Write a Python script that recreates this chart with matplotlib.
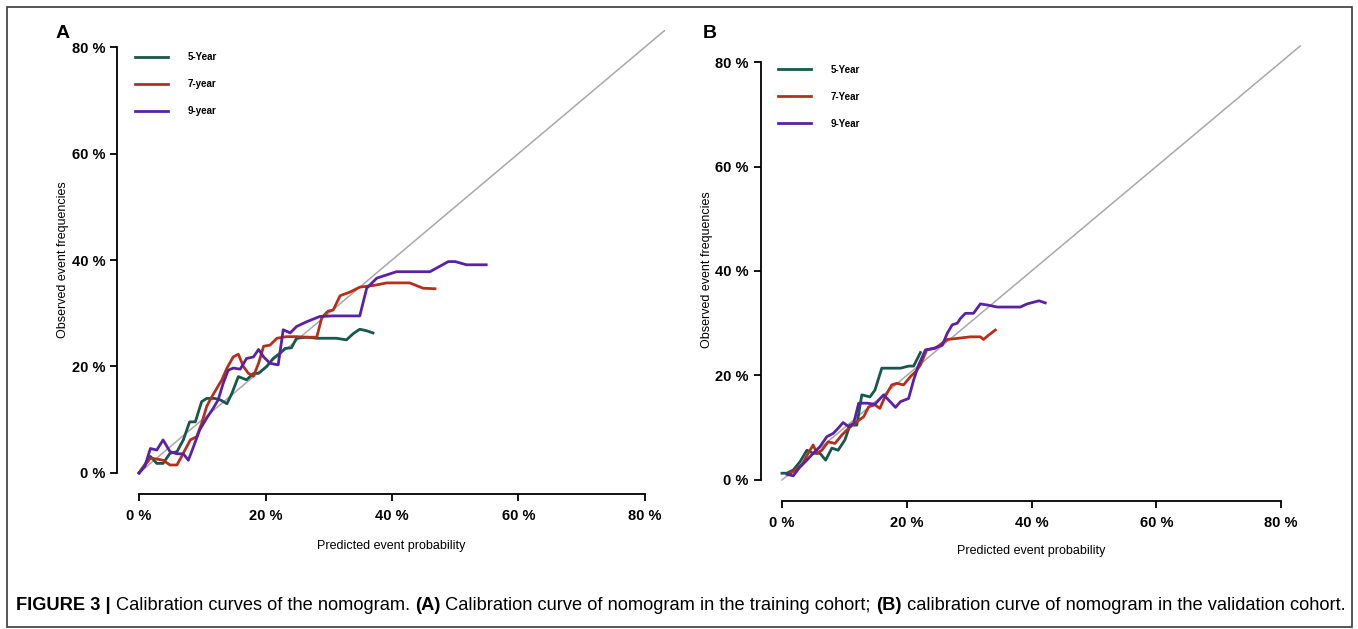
import matplotlib
matplotlib.use("Agg")
import matplotlib.pyplot as plt
from matplotlib.patches import Rectangle

# ---------------- data (percent) ----------------
a5_x = [0, 1.8, 2.8, 3.8, 4.9, 6.0, 7.0, 8.0, 8.9, 9.9, 10.7, 12.0, 12.9, 13.9, 14.7, 15.7, 17.0, 18.1, 18.9,
        20.2, 21.2, 22.3, 23.1, 24.1, 24.9, 26.5, 28.1, 31.2, 32.8, 33.9, 34.9, 36.0, 37.0]
a5_y = [0, 3.1, 1.8, 1.8, 3.7, 4.0, 6.2, 9.6, 9.6, 13.4, 14.0, 14.0, 13.7, 13.0, 15.0, 18.1, 17.5, 18.7, 18.7,
        20.0, 21.5, 22.5, 23.4, 23.5, 25.3, 25.5, 25.3, 25.3, 25.0, 26.2, 27.0, 26.7, 26.3]

a7_x = [0, 1.8, 2.8, 3.8, 4.9, 6.0, 7.0, 8.1, 9.1, 9.9, 10.7, 11.5, 12.3, 13.1, 13.9, 14.9, 15.7, 16.5, 17.3,
        18.1, 18.9, 19.7, 20.7, 21.8, 23.3, 24.9, 26.5, 28.1, 28.9, 29.9, 30.7, 31.8, 33.4, 34.9, 37.0, 39.2,
        42.8, 44.9, 46.8]
a7_y = [0, 2.8, 2.6, 2.4, 1.5, 1.5, 3.7, 6.2, 6.8, 9.3, 12.5, 14.3, 15.9, 17.5, 19.7, 21.8, 22.3, 20.0, 18.7,
        18.2, 20.6, 23.8, 24.0, 25.3, 25.6, 25.6, 25.5, 25.5, 29.2, 30.4, 30.6, 33.3, 34.0, 34.9, 35.2, 35.7,
        35.7, 34.7, 34.6]

a9_x = [0, 0.9, 1.8, 2.8, 3.8, 4.9, 6.0, 7.0, 7.8, 8.6, 9.6, 10.7, 11.7, 12.5, 13.3, 14.1, 14.9, 16.0, 17.0,
        18.1, 18.9, 19.7, 20.7, 22.0, 22.8, 23.9, 24.9, 26.5, 28.6, 30.7, 34.9, 36.0, 37.6, 40.7, 46.0, 48.9,
        50.0, 51.8, 54.9]
a9_y = [0, 1.2, 4.6, 4.3, 6.2, 4.0, 3.6, 3.6, 2.4, 4.9, 8.1, 10.3, 12.1, 13.7, 16.8, 19.3, 19.7, 19.5, 21.5,
        21.8, 23.2, 21.8, 20.6, 20.3, 26.9, 26.3, 27.5, 28.4, 29.4, 29.5, 29.5, 34.7, 36.6, 37.8, 37.8, 39.7,
        39.7, 39.1, 39.1]

b5_x = [0, 0.8, 1.8, 2.9, 4.0, 5.0, 6.1, 7.0, 8.0, 9.0, 10.1, 10.9, 12.0, 12.8, 14.1, 14.9, 16.0, 19.0, 20.3,
        21.1, 22.2]
b5_y = [1.3, 1.3, 1.9, 3.5, 5.7, 5.1, 5.1, 3.8, 6.1, 5.7, 7.7, 10.5, 10.5, 16.3, 15.9, 17.2, 21.4, 21.4, 21.8,
        21.8, 24.4]

b7_x = [1.0, 2.0, 3.2, 4.2, 5.0, 5.6, 6.4, 7.4, 8.5, 9.6, 10.7, 11.7, 13.1, 13.9, 14.9, 15.7, 16.5, 17.6, 18.4,
        19.5, 20.6, 21.4, 22.2, 23.2, 24.6, 25.7, 26.5, 28.1, 30.2, 31.8, 32.3, 33.1, 34.2]
b7_y = [1.0, 1.8, 2.9, 5.1, 6.7, 5.1, 5.7, 7.3, 7.0, 8.6, 9.9, 10.9, 12.1, 14.0, 14.4, 13.7, 15.9, 18.2, 18.5,
        18.2, 19.8, 20.7, 22.0, 24.9, 25.2, 26.2, 26.9, 27.1, 27.4, 27.4, 26.9, 27.7, 28.7]

b9_x = [0.8, 1.8, 2.9, 4.0, 5.0, 6.1, 7.2, 8.2, 9.0, 9.8, 10.7, 11.5, 12.3, 13.6, 14.9, 16.3, 17.1, 18.2, 19.0,
        20.3, 21.1, 21.9, 23.0, 24.3, 25.7, 26.5, 27.3, 28.1, 28.6, 29.4, 30.7, 31.8, 32.9, 34.5, 38.2, 39.3,
        41.2, 42.2]
b9_y = [1.1, 0.8, 2.5, 3.8, 5.1, 6.4, 8.3, 8.9, 9.9, 11.0, 10.2, 10.9, 14.7, 14.7, 14.5, 16.3, 15.3, 13.9, 15.0,
        15.6, 19.1, 22.0, 24.9, 25.2, 25.8, 28.1, 29.7, 30.0, 30.9, 31.9, 31.9, 33.7, 33.5, 33.1, 33.1, 33.7,
        34.3, 33.9]

tick_vals = [0, 20, 40, 60, 80]
tick_labels = ["0 %", "20 %", "40 %", "60 %", "80 %"]
labels_a = ["5-Year", "7-year", "9-year"]
labels_b = ["5-Year", "7-Year", "9-Year"]
colors = ["#17584a", "#b5301c", "#5a22a3"]

NARROW = ["Liberation Sans Narrow", "Liberation Sans", "DejaVu Sans"]
ARIAL = ["Liberation Sans", "DejaVu Sans"]

W, H = 1358, 629
fig = plt.figure(figsize=(W / 100, H / 100), dpi=100)
fig.patch.set_facecolor("white")


def px_axes(l, t, r, b):
    return fig.add_axes([l / W, 1 - b / H, (r - l) / W, (b - t) / H])


def style(ax):
    ax.set_xlim(-3.2, 83.2)
    ax.set_ylim(-3.2, 83.2)
    for s in ("top", "right"):
        ax.spines[s].set_visible(False)
    for s in ("left", "bottom"):
        ax.spines[s].set_bounds(0, 80)
        ax.spines[s].set_linewidth(1.3)
    ax.spines["bottom"].set_position(("outward", 3))
    ax.spines["left"].set_position(("outward", 1))
    ax.set_xticks(tick_vals)
    ax.set_xticklabels(tick_labels)
    ax.set_yticks(tick_vals)
    ax.set_yticklabels(tick_labels)
    ax.tick_params(length=5, width=1.3, labelsize=10.5)
    ax.tick_params(axis="y", pad=3.5)
    ax.tick_params(axis="x", pad=6)
    for lab in ax.get_xticklabels() + ax.get_yticklabels():
        lab.set_family(NARROW)
        lab.set_fontweight("bold")
    ax.patch.set_alpha(0)


def panel(ax, series, labels, leg_anchor):
    style(ax)
    ax.plot([0, 83.2], [0, 83.2], color="#a8a8a8", lw=1.1, zorder=1)
    for (xs, ys), lab, c in zip(series, labels, colors):
        ax.plot(xs, ys, color=c, lw=2.0, label=lab, zorder=3, solid_joinstyle="round")
    leg = ax.legend(loc="upper left", bbox_to_anchor=leg_anchor, frameon=False,
                    handlelength=3.4, handletextpad=2.0, labelspacing=1.75, borderpad=0,
                    borderaxespad=0, prop={"family": NARROW, "weight": "bold", "size": 7})
    for line in leg.get_lines():
        line.set_linewidth(2.0)


axA = px_axes(118.8, 30, 665.2, 490)
panel(axA, [(a5_x, a5_y), (a7_x, a7_y), (a9_x, a9_y)], labels_a, (0.0297, 0.952))
axB = px_axes(762, 45.3, 1301, 496.7)
panel(axB, [(b5_x, b5_y), (b7_x, b7_y), (b9_x, b9_y)], labels_b, (0.0297, 0.957))

# axis labels
fig.text(391 / W, 1 - 546 / H, "Predicted event probability", ha="center", va="center",
         fontsize=9, family=NARROW)
fig.text(63 / W, 1 - 260 / H, "Observed event frequencies", ha="center", va="center",
         rotation=90, fontsize=9, family=NARROW)
fig.text(1031 / W, 1 - 551 / H, "Predicted event probability", ha="center", va="center",
         fontsize=9, family=NARROW)
fig.text(707 / W, 1 - 270 / H, "Observed event frequencies", ha="center", va="center",
         rotation=90, fontsize=9, family=NARROW)

# panel letters
fig.text(63 / W, 1 - 34 / H, "A", ha="center", va="center", fontsize=14, fontweight="bold", family=ARIAL)
fig.text(710 / W, 1 - 34 / H, "B", ha="center", va="center", fontsize=14, fontweight="bold", family=ARIAL)

# border
fig.patches.append(Rectangle((7 / W, 1 - 627 / H), (1352 - 7) / W, (627 - 7) / H,
                             transform=fig.transFigure, fill=False, edgecolor="#3a3a3a", lw=1.2))

# caption (pieces placed sequentially)
pieces = [("FIGURE 3 | ", "bold"), ("Calibration curves of the nomogram. ", "normal"), ("(A)", "bold"),
          (" Calibration curve of nomogram in the training cohort; ", "normal"), ("(B)", "bold"),
          (" calibration curve of nomogram in the validation cohort.", "normal")]
renderer = fig.canvas.get_renderer()
x = 16 / W
for s, w in pieces:
    t = fig.text(x, 1 - 605 / H, s, ha="left", va="center", fontsize=13.15, fontweight=w, family=ARIAL)
    bb = t.get_window_extent(renderer)
    x = bb.x1 / W

fig.savefig("out.png", dpi=100, facecolor="white")
